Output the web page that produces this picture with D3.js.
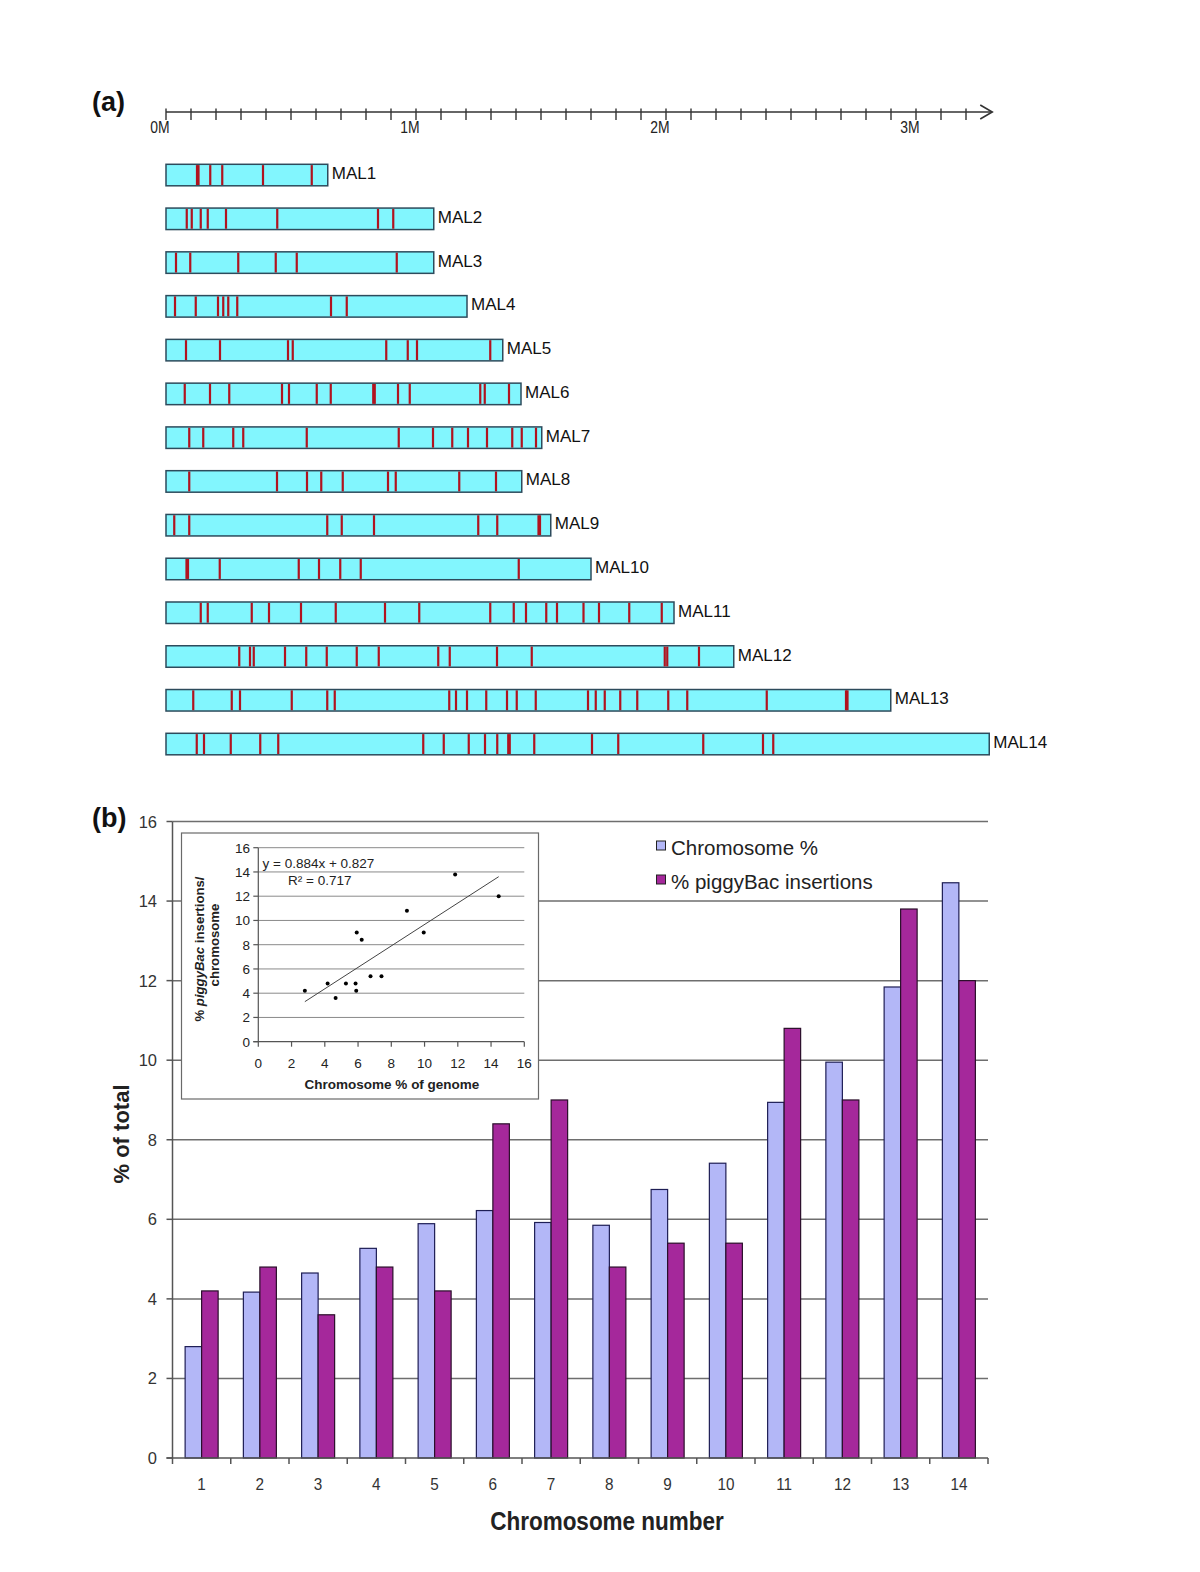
<!DOCTYPE html>
<html><head><meta charset="utf-8">
<script src="https://cdn.jsdelivr.net/npm/d3@7"></script>
<style>
body{margin:0;background:#fff}
svg{display:block}
text{font-family:"Liberation Sans",Arial,Helvetica,sans-serif}
</style>
</head><body>
<svg id="chart" width="1200" height="1572"></svg>
<script>
// ---------------- DATA ----------------
// Panel (a): chromosome maps (lengths and insertion positions in Mb)
const chromNames = ["MAL1","MAL2","MAL3","MAL4","MAL5","MAL6","MAL7","MAL8","MAL9","MAL10","MAL11","MAL12","MAL13","MAL14"];
const chromLengths = [0.647,1.071,1.071,1.204,1.347,1.420,1.503,1.423,1.539,1.700,2.032,2.271,2.899,3.293];
const insertionSites = [
  [0.124,0.130,0.177,0.225,0.388,0.583],
  [0.083,0.103,0.139,0.167,0.240,0.445,0.848,0.909],
  [0.040,0.097,0.289,0.439,0.523,0.923],
  [0.036,0.119,0.208,0.229,0.249,0.285,0.660,0.723],
  [0.080,0.216,0.488,0.507,0.881,0.967,1.004,1.297],
  [0.075,0.176,0.253,0.464,0.492,0.603,0.659,0.829,0.835,0.928,0.975,1.257,1.275,1.372],
  [0.093,0.149,0.269,0.309,0.563,0.931,1.068,1.145,1.208,1.284,1.385,1.423,1.480],
  [0.093,0.444,0.564,0.621,0.707,0.888,0.919,1.173,1.320],
  [0.033,0.093,0.645,0.703,0.832,1.249,1.325,1.490,1.496],
  [0.082,0.088,0.215,0.531,0.612,0.697,0.779,1.411],
  [0.139,0.167,0.343,0.412,0.540,0.679,0.876,1.013,1.297,1.391,1.440,1.521,1.564,1.670,1.732,1.853,1.983],
  [0.293,0.336,0.351,0.476,0.561,0.643,0.763,0.851,1.089,1.135,1.324,1.463,1.995,2.005,2.132],
  [0.109,0.263,0.296,0.503,0.645,0.675,1.133,1.160,1.204,1.281,1.364,1.403,1.479,1.688,1.719,1.755,1.817,1.885,2.009,2.085,2.403,2.720,2.726],
  [0.123,0.152,0.259,0.377,0.449,1.029,1.111,1.211,1.276,1.325,1.369,1.375,1.473,1.704,1.809,2.149,2.388,2.429]
];
const mbTickValues = d3.range(0, 33).map(i => i / 10);
const mbLabelValues = [0, 1, 2, 3];
const mbLabels = ["0M","1M","2M","3M"];

// Panel (b): bar chart
const chromNumbers = ["1","2","3","4","5","6","7","8","9","10","11","12","13","14"];
const chromPercent = [2.80,4.17,4.65,5.27,5.89,6.22,5.92,5.85,6.75,7.41,8.94,9.95,11.84,14.46];
const piggyBacPercent = [4.2,4.8,3.6,4.8,4.2,8.4,9.0,4.8,5.4,5.4,10.8,9.0,13.8,12.0];
const seriesNames = ["Chromosome %","% piggyBac insertions"];
const yTicks = [0,2,4,6,8,10,12,14,16];
const insetTicks = [0,2,4,6,8,10,12,14,16];
const trendSlope = 0.884, trendIntercept = 0.827;
const trendLabel = "y = 0.884x + 0.827";
const r2Label = "R² = 0.717";

// ---------------- DRAW ----------------
const svg = d3.select("#chart");

// ===== Panel (a) =====
svg.append("text").attr("x", 92).attr("y", 111).attr("font-size", 27).attr("font-weight", "bold").attr("fill", "#111").text("(a)");

const xMb = d3.scaleLinear().domain([0, 1]).range([166, 416]);
const axisY = 112;
const axisEnd = 3.305;
const gA = svg.append("g");
gA.append("line").attr("x1", xMb(0)).attr("x2", xMb(axisEnd)).attr("y1", axisY).attr("y2", axisY)
  .attr("stroke", "#333").attr("stroke-width", 1.6);
gA.append("path").attr("d", `M${xMb(axisEnd)-12},${axisY-7} L${xMb(axisEnd)},${axisY} L${xMb(axisEnd)-12},${axisY+7}`)
  .attr("fill", "none").attr("stroke", "#333").attr("stroke-width", 1.6);
gA.selectAll("line.tk").data(mbTickValues).join("line").attr("class","tk")
  .attr("x1", d => xMb(d)).attr("x2", d => xMb(d)).attr("y1", axisY - 3.5).attr("y2", axisY + 8)
  .attr("stroke", "#333").attr("stroke-width", 1.4);
gA.selectAll("text.tl").data(mbLabelValues).join("text").attr("class","tl")
  .attr("transform", d => `translate(${xMb(d) - 6},133) scale(0.82,1)`).attr("text-anchor", "middle")
  .attr("font-size", 17).attr("fill", "#222").text((d, i) => mbLabels[i]);

const rowY = d3.scalePoint().domain(chromNames).range([164.3, 733.3]);
const barH = 21.5;
const rows = gA.selectAll("g.row").data(chromNames).join("g").attr("class", "row")
  .attr("transform", d => `translate(0,${rowY(d)})`);
rows.append("rect").attr("x", xMb(0)).attr("y", 0)
  .attr("width", (d, i) => xMb(chromLengths[i]) - xMb(0)).attr("height", barH)
  .attr("fill", "#82f6fe").attr("stroke", "#2d4b5c").attr("stroke-width", 1.5);
rows.each(function(d, i) {
  d3.select(this).selectAll("rect.ins").data(insertionSites[i]).join("rect").attr("class", "ins")
    .attr("x", p => xMb(p) - 1.1).attr("y", 0.8).attr("width", 2.2).attr("height", barH - 1.6)
    .attr("fill", "#b0131f");
});
rows.append("text").attr("x", (d, i) => xMb(chromLengths[i]) + 4).attr("y", barH / 2 + 4)
  .attr("font-size", 17).attr("fill", "#111")
  .attr("style", 'font-family:"Liberation Sans Narrow","Liberation Sans",Arial,sans-serif')
  .text(d => d);

// ===== Panel (b) =====
svg.append("text").attr("x", 92).attr("y", 827).attr("font-size", 27).attr("font-weight", "bold").attr("fill", "#111").text("(b)");

const x = d3.scaleBand().domain(chromNumbers).range([172.5, 988]).padding(0);
const xs = d3.scaleBand().domain(seriesNames).range([0, x.bandwidth()]).paddingInner(0).paddingOuter(0.765);
const y = d3.scaleLinear().domain([0, 16]).range([1458, 821.5]);
const gB = svg.append("g");

// gridlines
gB.selectAll("line.grid").data(yTicks.filter(d => d > 0)).join("line").attr("class", "grid")
  .attr("x1", x.range()[0]).attr("x2", x.range()[1]).attr("y1", d => y(d)).attr("y2", d => y(d))
  .attr("stroke", "#6e6e6e").attr("stroke-width", 1.5);

// bars
const colors = ["#b3b7f7", "#a5289b"];
const groups = gB.selectAll("g.cat").data(chromNumbers).join("g").attr("class", "cat")
  .attr("transform", d => `translate(${x(d)},0)`);
groups.append("rect").attr("x", xs(seriesNames[0])).attr("width", xs.bandwidth())
  .attr("y", (d, i) => y(chromPercent[i])).attr("height", (d, i) => y(0) - y(chromPercent[i]))
  .attr("fill", colors[0]).attr("stroke", "#1e1e55").attr("stroke-width", 1.2);
groups.append("rect").attr("x", xs(seriesNames[1])).attr("width", xs.bandwidth())
  .attr("y", (d, i) => y(piggyBacPercent[i])).attr("height", (d, i) => y(0) - y(piggyBacPercent[i]))
  .attr("fill", colors[1]).attr("stroke", "#2a0f2a").attr("stroke-width", 1.2);

// axes
gB.append("line").attr("x1", x.range()[0]).attr("x2", x.range()[0]).attr("y1", y(16)).attr("y2", y(0))
  .attr("stroke", "#555").attr("stroke-width", 1.5);
gB.append("line").attr("x1", x.range()[0] - 6).attr("x2", x.range()[1]).attr("y1", y(0)).attr("y2", y(0))
  .attr("stroke", "#555").attr("stroke-width", 1.5);
gB.selectAll("line.ytk").data(yTicks).join("line").attr("class", "ytk")
  .attr("x1", x.range()[0] - 6).attr("x2", x.range()[0]).attr("y1", d => y(d)).attr("y2", d => y(d))
  .attr("stroke", "#555").attr("stroke-width", 1.5);
gB.selectAll("text.ytl").data(yTicks).join("text").attr("class", "ytl")
  .attr("x", 157).attr("y", d => y(d) + 6).attr("text-anchor", "end")
  .attr("font-size", 16.5).attr("fill", "#333").text(d => d);
const xTickPos = chromNumbers.map(d => x(d)).concat([x.range()[1]]);
gB.selectAll("line.xtk").data(xTickPos).join("line").attr("class", "xtk")
  .attr("x1", d => d).attr("x2", d => d).attr("y1", y(0)).attr("y2", y(0) + 6)
  .attr("stroke", "#555").attr("stroke-width", 1.5);
gB.selectAll("text.xtl").data(chromNumbers).join("text").attr("class", "xtl")
  .attr("transform", d => `translate(${x(d) + x.bandwidth() / 2},1490) scale(0.9,1)`).attr("text-anchor", "middle")
  .attr("font-size", 17).attr("fill", "#333").text(d => d);

svg.append("text").attr("transform", "translate(607,1530) scale(0.9,1)").attr("text-anchor", "middle")
  .attr("font-size", 25).attr("font-weight", "bold").attr("fill", "#222").text("Chromosome number");
svg.append("text").attr("transform", "translate(129,1134) rotate(-90)").attr("text-anchor", "middle")
  .attr("font-size", 22).attr("font-weight", "bold").attr("fill", "#222").text("% of total");

// legend
const leg = svg.append("g");
seriesNames.forEach((s, i) => {
  leg.append("rect").attr("x", 656.5).attr("y", 841 + i * 34).attr("width", 9).attr("height", 9)
    .attr("fill", colors[i]).attr("stroke", "#222").attr("stroke-width", 1);
  leg.append("text").attr("x", 671).attr("y", 855 + i * 34).attr("font-size", 20.5).attr("fill", "#222").text(s);
});

// ===== Inset scatter =====
const gI = svg.append("g");
gI.append("rect").attr("x", 181.5).attr("y", 833).attr("width", 357).attr("height", 266)
  .attr("fill", "#fff").attr("stroke", "#6a6a6a").attr("stroke-width", 1.2);
const ix = d3.scaleLinear().domain([0, 16]).range([258.3, 524.3]);
const iy = d3.scaleLinear().domain([0, 16]).range([1041.7, 847.7]);
gI.selectAll("line.ig").data(insetTicks.filter(d => d > 0)).join("line").attr("class", "ig")
  .attr("x1", ix(0)).attr("x2", ix(16)).attr("y1", d => iy(d)).attr("y2", d => iy(d))
  .attr("stroke", "#8a8a8a").attr("stroke-width", 1);
gI.append("line").attr("x1", ix(0)).attr("x2", ix(0)).attr("y1", iy(16)).attr("y2", iy(0)).attr("stroke", "#555").attr("stroke-width", 1.2);
gI.append("line").attr("x1", ix(0) - 5).attr("x2", ix(16)).attr("y1", iy(0)).attr("y2", iy(0)).attr("stroke", "#555").attr("stroke-width", 1.2);
gI.selectAll("line.iyt").data(insetTicks).join("line").attr("class", "iyt")
  .attr("x1", ix(0) - 5).attr("x2", ix(0)).attr("y1", d => iy(d)).attr("y2", d => iy(d)).attr("stroke", "#555").attr("stroke-width", 1.2);
gI.selectAll("line.ixt").data(insetTicks).join("line").attr("class", "ixt")
  .attr("x1", d => ix(d)).attr("x2", d => ix(d)).attr("y1", iy(0)).attr("y2", iy(0) + 5).attr("stroke", "#555").attr("stroke-width", 1.2);
gI.selectAll("text.iyl").data(insetTicks).join("text").attr("class", "iyl")
  .attr("x", 250).attr("y", d => iy(d) + 5).attr("text-anchor", "end").attr("font-size", 13.5).attr("fill", "#222").text(d => d);
gI.selectAll("text.ixl").data(insetTicks).join("text").attr("class", "ixl")
  .attr("x", d => ix(d)).attr("y", 1068).attr("text-anchor", "middle").attr("font-size", 13.5).attr("fill", "#222").text(d => d);

const xMin = d3.min(chromPercent), xMax = d3.max(chromPercent);
gI.append("line").attr("x1", ix(xMin)).attr("y1", iy(trendSlope * xMin + trendIntercept))
  .attr("x2", ix(xMax)).attr("y2", iy(trendSlope * xMax + trendIntercept))
  .attr("stroke", "#444").attr("stroke-width", 1);
gI.selectAll("circle.pt").data(chromPercent).join("circle").attr("class", "pt")
  .attr("cx", d => ix(d)).attr("cy", (d, i) => iy(piggyBacPercent[i])).attr("r", 2).attr("fill", "#000");

gI.append("text").attr("x", 262.5).attr("y", 868).attr("font-size", 13.5).attr("fill", "#222").text(trendLabel);
gI.append("text").attr("x", 288).attr("y", 885).attr("font-size", 13.5).attr("fill", "#222").text(r2Label);

gI.append("text").attr("x", 392).attr("y", 1089).attr("text-anchor", "middle").attr("font-size", 13.5)
  .attr("font-weight", "bold").attr("fill", "#222").text("Chromosome % of genome");
const yl = gI.append("text").attr("transform", "translate(204,949) rotate(-90)").attr("text-anchor", "middle")
  .attr("font-size", 13.2).attr("font-weight", "bold").attr("fill", "#222");
yl.append("tspan").text("% ");
yl.append("tspan").attr("font-style", "italic").text("piggyBac");
yl.append("tspan").text(" insertions/");
gI.append("text").attr("transform", "translate(219,945) rotate(-90)").attr("text-anchor", "middle")
  .attr("font-size", 13.2).attr("font-weight", "bold").attr("fill", "#222").text("chromosome");
</script>
</body></html>
